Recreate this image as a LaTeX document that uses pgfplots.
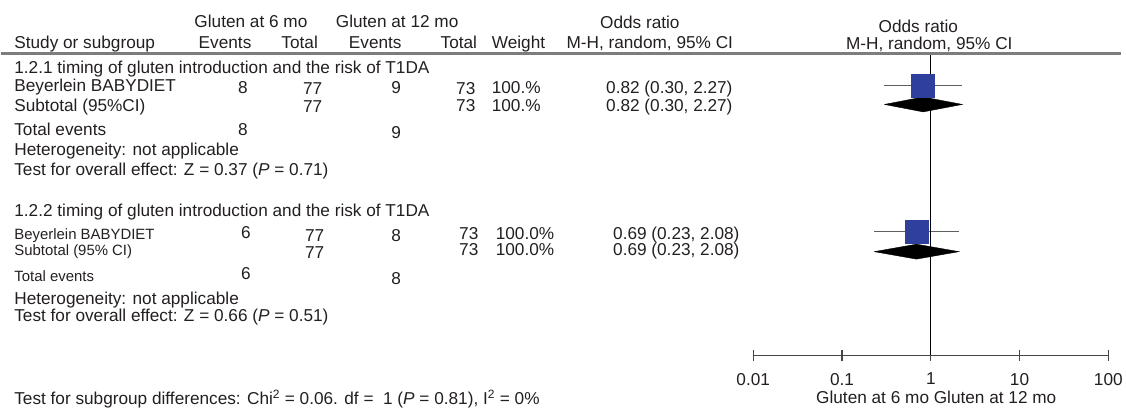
\documentclass[border=0pt]{standalone}
\usepackage{pgfplots}
\pgfplotsset{compat=1.18}
\usepackage{fontspec}
\setmainfont{Liberation Sans}

\definecolor{txt}{RGB}{35,31,32}
\definecolor{sqblue}{RGB}{46,64,155}
\definecolor{cigray}{RGB}{95,95,95}
\definecolor{axgray}{RGB}{70,70,70}
\definecolor{rulegray}{RGB}{125,125,125}

\newcommand\mf{\fontsize{17.3}{20}\selectfont}
\newcommand\sm{\fontsize{15}{17}\selectfont}

\begin{document}
\begin{tikzpicture}[font=\mf, text=txt,
    L/.style={inner sep=0pt, anchor=base west},
    C/.style={inner sep=0pt, anchor=base}]
% background axis: 1 unit = 1 px of the reference, y counted from the top
% text is placed by its baseline (anchor=base / base west)
\begin{axis}[
    name=bg, at={(0pt,0pt)}, anchor=south west,
    scale only axis, width=1126pt, height=412pt,
    xmin=0, xmax=1126, ymin=0, ymax=412, y dir=reverse,
    axis lines=none, clip=false,
]
\draw[rulegray, line width=2.5pt] (axis cs:0,54) -- (axis cs:1126,54);
% headers
\node[C] at (axis cs:251,28) {Gluten at 6 mo};
\node[C] at (axis cs:398,28) {Gluten at 12 mo};
\node[C] at (axis cs:642,29) {Odds ratio};
\node[L] at (axis cs:13,49) {Study or subgroup};
\node[C] at (axis cs:225,49) {Events};
\node[C] at (axis cs:300,49) {Total};
\node[C] at (axis cs:376,49) {Events};
\node[C] at (axis cs:460,49) {Total};
\node[C] at (axis cs:520,49) {Weight};
\node[C] at (axis cs:652,49) {M-H, random, 95\% CI};
\node[C] at (axis cs:922,33) {Odds ratio};
\node[C] at (axis cs:933,50) {M-H, random, 95\% CI};

% group 1.2.1
\node[L] at (axis cs:13,74) {1.2.1 timing of gluten introduction and the risk of T1DA};
\node[L] at (axis cs:13,92) {Beyerlein BABYDIET};
\node[C] at (axis cs:243,94) {8};
\node[C] at (axis cs:313,95) {77};
\node[C] at (axis cs:397,94) {9};
\node[C] at (axis cs:467,95) {73};
\node[L] at (axis cs:493,94) {100.\%};
\node[L] at (axis cs:608,94) {0.82 (0.30, 2.27)};
\node[L] at (axis cs:13,112) {Subtotal (95\%CI)};
\node[C] at (axis cs:313,113) {77};
\node[C] at (axis cs:467,112) {73};
\node[L] at (axis cs:493,112) {100.\%};
\node[L] at (axis cs:608,112) {0.82 (0.30, 2.27)};
\node[L] at (axis cs:13,136) {Total events};
\node[C] at (axis cs:243,136) {8};
\node[C] at (axis cs:397,139) {9};
\node[L] at (axis cs:13,156) {Heterogeneity: not applicable};
\node[L] at (axis cs:13,176) {Test for overall effect: Z = 0.37 (\textit{P} = 0.71)};

% group 1.2.2
\node[L] at (axis cs:13,218) {1.2.2 timing of gluten introduction and the risk of T1DA};
\node[L, font=\sm] at (axis cs:13,240.5) {Beyerlein BABYDIET};
\node[C] at (axis cs:246,240) {6};
\node[C] at (axis cs:315,243) {77};
\node[C] at (axis cs:397,243) {8};
\node[C] at (axis cs:470,241) {73};
\node[L] at (axis cs:497,241) {100.0\%};
\node[L] at (axis cs:615,241) {0.69 (0.23, 2.08)};
\node[L, font=\sm] at (axis cs:13,256.5) {Subtotal (95\% CI)};
\node[C] at (axis cs:315,260) {77};
\node[C] at (axis cs:470,257) {73};
\node[L] at (axis cs:497,257) {100.0\%};
\node[L] at (axis cs:615,257) {0.69 (0.23, 2.08)};
\node[L, font=\sm] at (axis cs:13,282.5) {Total events};
\node[C] at (axis cs:246,281) {6};
\node[C] at (axis cs:397,286) {8};
\node[L] at (axis cs:13,306) {Heterogeneity: not applicable};
\node[L] at (axis cs:13,323) {Test for overall effect: Z = 0.66 (\textit{P} = 0.51)};

\node[L] at (axis cs:13,407) {Test for subgroup differences: Chi\textsuperscript{2} = 0.06. df =\ \ 1 (\textit{P} = 0.81), I\textsuperscript{2} = 0\%};
\node[C] at (axis cs:940,406) {Gluten at 6 mo Gluten at 12 mo};
\end{axis}

% forest plot: log odds ratio; y counted from the bottom of the picture
\begin{axis}[
    name=fp, at={(756pt,55pt)}, anchor=south west,
    scale only axis, width=357pt, height=302pt,
    xmode=log, xmin=0.01, xmax=100, ymin=55, ymax=357,
    axis x line*=bottom, axis y line=none,
    xtick={0.01,0.1,1,10,100},
    xticklabels={0.01,0.1,1,10,100},
    xminorticks=false,
    xtick align=center, major tick length=11pt,
    x axis line style={draw=axgray, line width=1.2pt, -},
    every tick/.style={axgray, line width=1.2pt},
    xticklabel style={font=\mf, text=txt, yshift=-9pt},
    clip=false,
]
% study 1
\addplot[cigray, line width=1.2pt] coordinates {(0.30,326) (2.27,326)};
\addplot[only marks, mark=square*, mark size=11.5pt, mark options={fill=sqblue, draw=sqblue}] coordinates {(0.82,326)};
\addplot[fill=black, draw=black] coordinates {(0.30,307) (0.82,314.5) (2.27,307) (0.82,299.5) (0.30,307)};
% study 2
\addplot[cigray, line width=1.2pt] coordinates {(0.23,179) (2.08,179)};
\addplot[only marks, mark=square*, mark size=11.5pt, mark options={fill=sqblue, draw=sqblue}] coordinates {(0.69,179)};
\addplot[fill=black, draw=black] coordinates {(0.23,159) (0.69,166.5) (2.08,159) (0.69,151.5) (0.23,159)};
% line of no effect
\addplot[black, line width=1.3pt] coordinates {(1,55) (1,357)};
\end{axis}
\useasboundingbox (bg.south west) rectangle (bg.north east);
\end{tikzpicture}
\end{document}
